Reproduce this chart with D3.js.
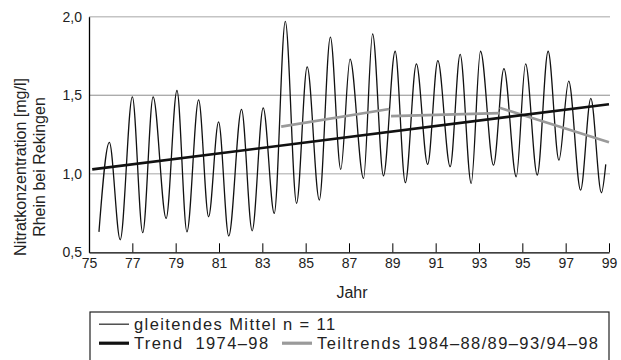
<!DOCTYPE html>
<html>
<head>
<meta charset="utf-8">
<script src="https://cdn.jsdelivr.net/npm/d3@7"></script>
<style>
  body { margin: 0; background: #fff; }
  svg { display: block; font-family: "Liberation Sans", Arial, sans-serif; }
</style>
</head>
<body>
<svg width="621" height="360"></svg>
<script>
// gleitendes Mittel, Extrempunkte (Jahr, mg/l)
var mittelJahr = [75.46, 75.94, 76.44, 77.00, 77.48, 77.96, 78.56, 79.06, 79.52, 80.06,
  80.52, 80.98, 81.45, 82.04, 82.53, 83.04, 83.55, 84.06, 84.58, 85.07,
  85.63, 86.14, 86.62, 87.05, 87.67, 88.09, 88.59, 89.13, 89.60, 90.11,
  90.63, 91.10, 91.67, 92.13, 92.64, 93.07, 93.67, 94.15, 94.72, 95.15,
  95.69, 96.19, 96.69, 97.14, 97.69, 98.16, 98.65, 98.85];
var mittelWert = [0.63, 1.20, 0.58, 1.49, 0.625, 1.49, 0.716, 1.53, 0.63, 1.47,
  0.726, 1.33, 0.604, 1.41, 0.637, 1.42, 0.748, 1.97, 0.812, 1.68,
  0.833, 1.87, 1.028, 1.73, 0.971, 1.89, 0.987, 1.78, 0.943, 1.70,
  1.06, 1.72, 1.045, 1.76, 0.939, 1.78, 1.055, 1.67, 0.981, 1.70,
  0.992, 1.78, 1.087, 1.59, 0.896, 1.48, 0.879, 1.06];

var trendJahr = [75.15, 99.0];
var trendWert = [1.028, 1.443];

var teilJahrStart = [83.87, 88.94, 93.95];
var teilJahrEnde  = [88.86, 93.95, 99.0];
var teilWertStart = [1.30, 1.367, 1.42];
var teilWertEnde  = [1.412, 1.386, 1.20];

var xTicks = [75, 77, 79, 81, 83, 85, 87, 89, 91, 93, 95, 97, 99];
var yTicks = [0.5, 1.0, 1.5, 2.0];

var svg = d3.select("svg");
var x = d3.scaleLinear().domain([75, 99]).range([89, 609]);
var y = d3.scaleLinear().domain([0.5, 2.0]).range([252.3, 16.7]);
var de = d3.formatLocale({decimal: ",", thousands: ".", grouping: [3], currency: ["", " €"]});

// Gitterlinien
svg.append("g").selectAll("line")
  .data(yTicks.slice(1))
  .enter().append("line")
  .attr("x1", x(75)).attr("x2", x(99) + 1)
  .attr("y1", function(d) { return y(d); })
  .attr("y2", function(d) { return y(d); })
  .style("stroke", function(d) { return d == 1.5 ? "#8c8c8c" : "#c4c4c4"; })
  .style("stroke-width", function(d) { return d == 1.5 ? 1 : 1.6; });

// Achsen
var xAxis = svg.append("g")
  .attr("transform", "translate(0," + y(0.5) + ")")
  .call(d3.axisBottom(x).tickValues(xTicks).tickSizeInner(-9).tickSizeOuter(0).tickPadding(6));
xAxis.select(".domain").style("stroke-width", 1.3);
xAxis.selectAll("text").style("font-size", "14px").style("fill", "#222");

var yAxis = svg.append("g")
  .attr("transform", "translate(" + x(75) + ",0)")
  .call(d3.axisLeft(y).tickValues(yTicks).tickSize(0).tickPadding(7).tickFormat(de.format(".1f")));
yAxis.select(".domain").style("stroke-width", 1.3);
yAxis.selectAll("text").style("font-size", "14px").style("fill", "#222");

svg.append("text")
  .attr("x", 352).attr("y", 298)
  .attr("text-anchor", "middle")
  .style("font-size", "16px").style("fill", "#222")
  .text("Jahr");

var yTitle = svg.append("g").attr("transform", "translate(0,167) rotate(-90)");
yTitle.append("text").attr("x", 0).attr("y", 26)
  .attr("text-anchor", "middle").style("font-size", "16px").style("fill", "#222")
  .text("Nitratkonzentration [mg/l]");
yTitle.append("text").attr("x", 0).attr("y", 45)
  .attr("text-anchor", "middle").style("font-size", "16px").style("fill", "#222")
  .text("Rhein bei Rekingen");

// gleitendes Mittel
var mittel = d3.zip(mittelJahr, mittelWert);
var line = d3.line()
  .x(function(d) { return x(d[0]); })
  .y(function(d) { return y(d[1]); })
  .curve(d3.curveMonotoneX);
svg.append("path")
  .datum(mittel)
  .attr("d", line)
  .style("fill", "none").style("stroke", "#111").style("stroke-width", 1.3);

// Teiltrends
svg.append("g").selectAll("line")
  .data(d3.range(teilJahrStart.length))
  .enter().append("line")
  .attr("x1", function(i) { return x(teilJahrStart[i]); })
  .attr("x2", function(i) { return x(teilJahrEnde[i]); })
  .attr("y1", function(i) { return y(teilWertStart[i]); })
  .attr("y2", function(i) { return y(teilWertEnde[i]); })
  .style("stroke", "#9a9a9a").style("stroke-width", 2.6);

// Trend
svg.append("line")
  .attr("x1", x(trendJahr[0])).attr("x2", x(trendJahr[1]))
  .attr("y1", y(trendWert[0])).attr("y2", y(trendWert[1]))
  .style("stroke", "#111").style("stroke-width", 2.6);

// Legende
var leg = svg.append("g");
leg.append("rect")
  .attr("x", 90).attr("y", 312).attr("width", 519).attr("height", 60)
  .style("fill", "#fff").style("stroke", "#222").style("stroke-width", 1.2);

var legItems = [
  {x: 99, y: 324.2, w: 1.3, c: "#333", t: "gleitendes Mittel n = 11"},
  {x: 99, y: 343.2, w: 3.2, c: "#111", t: "Trend  1974\u201398"},
  {x: 282, y: 343.2, w: 3.2, c: "#9a9a9a", t: "Teiltrends 1984\u201388/89\u201393/94\u201398"}
];
var li = leg.selectAll("g.item").data(legItems).enter().append("g").attr("class", "item");
li.append("line")
  .attr("x1", function(d) { return d.x; }).attr("x2", function(d) { return d.x + 30; })
  .attr("y1", function(d) { return d.y; }).attr("y2", function(d) { return d.y; })
  .style("stroke", function(d) { return d.c; })
  .style("stroke-width", function(d) { return d.w; });
li.append("text")
  .attr("x", function(d) { return d.x + 35; })
  .attr("y", function(d) { return d.y + 5.8; })
  .style("font-size", "16.5px").style("letter-spacing", "1.4px").style("fill", "#222")
  .style("white-space", "pre")
  .text(function(d) { return d.t; });
</script>
</body>
</html>
